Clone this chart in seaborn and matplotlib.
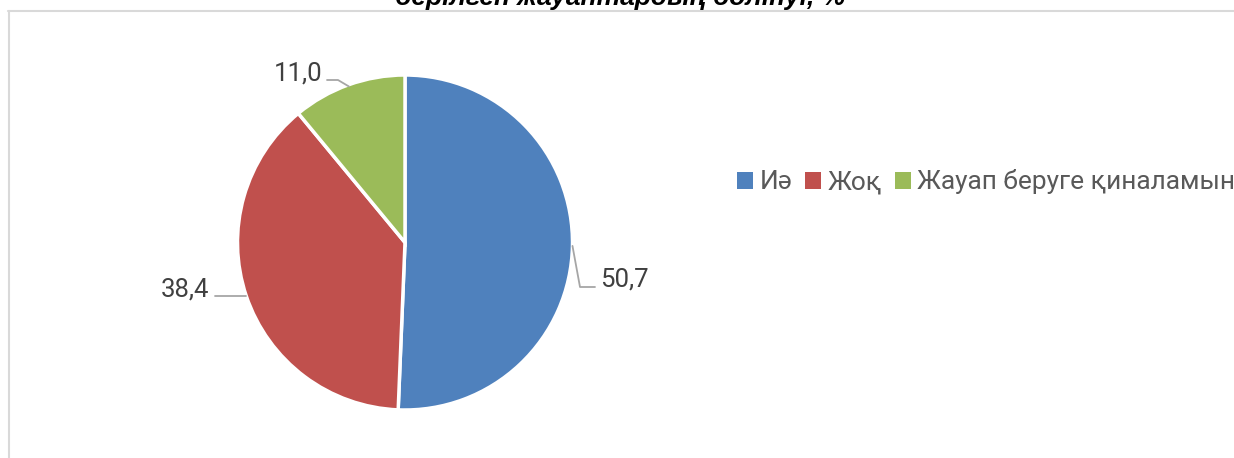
import numpy as np
import matplotlib
matplotlib.use("Agg")
import matplotlib.pyplot as plt
import seaborn as sns
from matplotlib.lines import Line2D

categories = ["Иә", "Жоқ", "Жауап беруге қиналамын"]
values = [50.7, 38.4, 11.0]
value_labels = ["50,7", "38,4", "11,0"]
colors = ["#4f81bd", "#c0504d", "#9bbb59"]
title = "берілген жауаптардың бөлінуі, %"

sns.set_theme(style="white")
plt.rcParams["font.family"] = ["Roboto", "DejaVu Sans"]

W, H = 1234, 458
fig = plt.figure(figsize=(W / 100, H / 100), dpi=100)

# frame lines (chart area border)
fig.add_artist(Line2D([8 / W, 1.0], [1 - 10.5 / H, 1 - 10.5 / H], transform=fig.transFigure,
                      color="#d9d9d9", lw=1.5))
fig.add_artist(Line2D([8.5 / W, 8.5 / W], [0, 1 - 10.5 / H], transform=fig.transFigure,
                      color="#d9d9d9", lw=1.5))

# title (clipped at top as in reference)
fig.text(620 / W, 1 - 5 / H, title, ha="center", va="baseline", fontsize=19,
         fontweight="bold", fontstyle="italic", color="#000000",
         family=["Liberation Sans", "DejaVu Sans"])

R = 167.5
cx, cy = 405, 242.5
span = 1.5
side = 2 * R * span
ax = fig.add_axes([(cx - side / 2) / W, (H - cy - side / 2) / H, side / W, side / H])

wedges, _ = ax.pie(values, colors=colors, startangle=90, counterclock=False, radius=1,
                   wedgeprops=dict(edgecolor="white", linewidth=2.5))
ax.set_xlim(-span, span)
ax.set_ylim(-span, span)
ax.set_aspect("equal")
ax.axis("off")

# leader line geometry and label placement (in radius units)
total = sum(values)
mids = []
start = 90.0
for v in values:
    sweep = 360 * v / total
    mids.append(np.deg2rad(start - sweep / 2))
    start -= sweep

lc = "#a6a6a6"
tc = "#404040"
fs = 18.5
s = 1 / R
# 50,7 : right side
a = mids[0]
p0 = (np.cos(a), np.sin(a))
ax.plot([p0[0], (580 - cx) * s, (595 - cx) * s], [p0[1], -(287 - cy) * s, -(287 - cy) * s],
        color=lc, lw=1.3, clip_on=False)
ax.text((600 - cx) * s, -(287 - cy) * s, value_labels[0], ha="left", va="baseline",
        fontsize=fs, color=tc)
# 38,4 : left side
a = mids[1]
p1 = (np.cos(a), np.sin(a))
ax.plot([p1[0], (215 - cx) * s], [-(295.5 - cy) * s, -(295.5 - cy) * s],
        color=lc, lw=1.3, clip_on=False)
ax.text((209 - cx) * s, -(297 - cy) * s, value_labels[1], ha="right", va="baseline",
        fontsize=fs, color=tc)
# 11,0 : top
a = mids[2]
p2 = (np.cos(a), np.sin(a))
ax.plot([(327 - cx) * s, (338 - cx) * s, p2[0] * 0.99], [-(80 - cy) * s, -(80 - cy) * s, p2[1] * 0.99],
        color=lc, lw=1.3, clip_on=False)
ax.text((322 - cx) * s, -(80 - cy) * s, value_labels[2], ha="right", va="baseline",
        fontsize=fs, color=tc)

# legend
handles = [plt.Rectangle((0, 0), 1, 1, facecolor=c, edgecolor="none") for c in colors]
leg = fig.legend(handles, categories, loc="center left", bbox_to_anchor=(737 / W, 1 - 182 / H),
                 ncol=3, frameon=False, fontsize=18.9, handlelength=0.6, handleheight=0.6,
                 handletextpad=0.25, columnspacing=0.5, borderaxespad=0, borderpad=0)
for t in leg.get_texts():
    t.set_color("#595959")

fig.savefig("out.png", dpi=100)
